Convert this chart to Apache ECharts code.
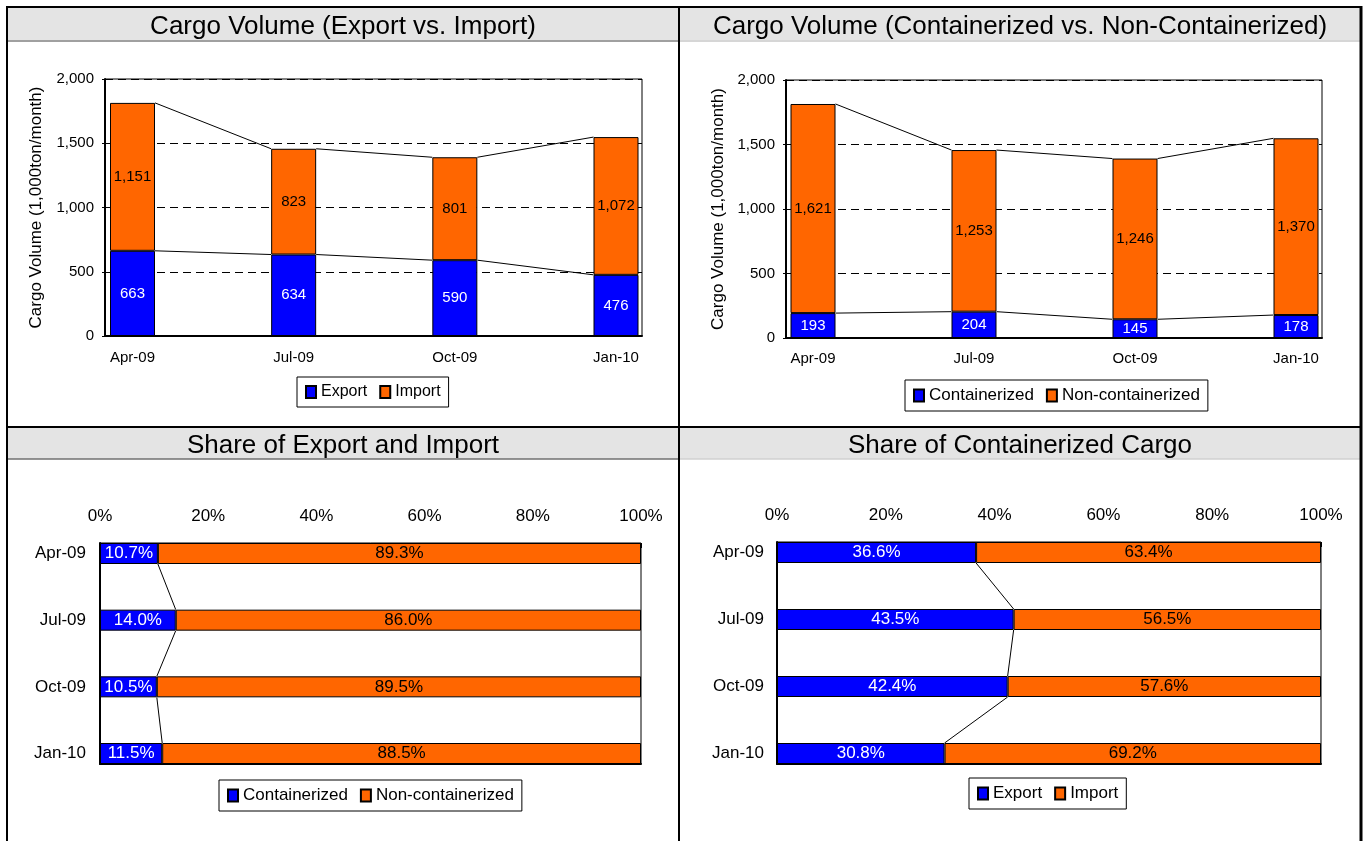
<!DOCTYPE html>
<html><head><meta charset="utf-8">
<script src="https://cdn.jsdelivr.net/npm/echarts@6/dist/echarts.min.js"></script>
<style>html,body{margin:0;padding:0;background:#fff}#c{width:1367px;height:841px}</style>
</head><body><div id="c"></div>
<script>
// ---------- data ----------
const categories = ['Apr-09', 'Jul-09', 'Oct-09', 'Jan-10'];
const exportVolume = [663, 634, 590, 476];
const importVolume = [1151, 823, 801, 1072];
const containerizedVolume = [193, 204, 145, 178];
const nonContainerizedVolume = [1621, 1253, 1246, 1370];
const shareLeftFirst = [10.7, 14.0, 10.5, 11.5];   // legend: Containerized
const shareLeftSecond = [89.3, 86.0, 89.5, 88.5];  // legend: Non-containerized
const shareRightFirst = [36.6, 43.5, 42.4, 30.8];  // legend: Export
const shareRightSecond = [63.4, 56.5, 57.6, 69.2]; // legend: Import
const volumeTicks = [0, 500, 1000, 1500, 2000];
const shareTicks = [0, 20, 40, 60, 80, 100];
const chartTitles = ['Cargo Volume (Export vs. Import)', 'Cargo Volume (Containerized vs. Non-Containerized)', 'Share of Export and Import', 'Share of Containerized Cargo'];
const yAxisTitle = 'Cargo Volume (1,000ton/month)';

// ---------- helpers ----------
const FONT = "'Liberation Sans', Arial, Helvetica, sans-serif";
const BLUE = '#0000FF', ORANGE = '#FF6600';
const fmtK = v => Number(v).toLocaleString('en-US');
const fmtP = v => Number(v).toFixed(1) + '%';
const VBAR = 45, HBAR = 21;

function cum(a, b) { return a.map((v, i) => v + (b ? b[i] : 0)); }
function pairs(tops) { const d = []; for (let i = 0; i < tops.length - 1; i++) d.push([i, tops[i], tops[i + 1]]); return d; }
function pairsH(ends) { const d = []; for (let i = 0; i < ends.length - 1; i++) d.push([ends[i], i, ends[i + 1]]); return d; }

function vLines(xi, yi, tops) {
  return {
    type: 'custom', xAxisIndex: xi, yAxisIndex: yi, silent: true, z: 5, clip: false,
    encode: { x: 0, y: 1 }, data: pairs(tops),
    renderItem: function (params, api) {
      const i = api.value(0);
      const p1 = api.coord([i, api.value(1)]);
      const p2 = api.coord([i + 1, api.value(2)]);
      return { type: 'line', shape: { x1: p1[0] + VBAR / 2, y1: p1[1], x2: p2[0] - VBAR / 2, y2: p2[1] },
        style: { stroke: '#000', lineWidth: 1 } };
    }
  };
}
function hLines(xi, yi, ends) {
  return {
    type: 'custom', xAxisIndex: xi, yAxisIndex: yi, silent: true, z: 5, clip: false,
    encode: { x: 0, y: 1 }, data: pairsH(ends),
    renderItem: function (params, api) {
      const i = api.value(1);
      const p1 = api.coord([api.value(0), i]);
      const p2 = api.coord([api.value(2), i + 1]);
      return { type: 'line', shape: { x1: p1[0], y1: p1[1] + HBAR / 2, x2: p2[0], y2: p2[1] - HBAR / 2 },
        style: { stroke: '#000', lineWidth: 1 } };
    }
  };
}
function vBar(name, xi, yi, stack, data, color, labelColor) {
  return { type: 'bar', name, xAxisIndex: xi, yAxisIndex: yi, stack, barWidth: VBAR, data,
    itemStyle: { color, borderColor: '#000', borderWidth: 1 },
    label: { show: true, position: 'inside', color: labelColor, fontSize: 15, fontFamily: FONT, formatter: p => fmtK(p.value) } };
}
function hBar(name, xi, yi, stack, data, color, labelColor) {
  return { type: 'bar', name, xAxisIndex: xi, yAxisIndex: yi, stack, barWidth: HBAR, data,
    itemStyle: { color, borderColor: '#000', borderWidth: 1 },
    label: { show: true, position: 'inside', color: labelColor, fontSize: 17, fontFamily: FONT, formatter: p => fmtP(p.value) } };
}

const vMin = volumeTicks[0], vMax = volumeTicks[volumeTicks.length - 1], vInt = volumeTicks[1] - volumeTicks[0];
const sMin = shareTicks[0], sMax = shareTicks[shareTicks.length - 1], sInt = shareTicks[1] - shareTicks[0];

const frameGrid = (l, t, w, h) => ({ left: l, top: t, width: w, height: h, show: true, borderColor: '#000', borderWidth: 1, backgroundColor: '#fff', containLabel: false, outerBoundsMode: 'none' });
const plainGrid = (l, t, w, h) => ({ left: l, top: t, width: w, height: h, containLabel: false, outerBoundsMode: 'none' });

const thickLine = { show: true, onZero: false, lineStyle: { color: '#000', width: 2 } };
const hiddenValue = (gi, min, max) => ({ gridIndex: gi, type: 'value', min, max, show: false });
const lineOnlyAxis = (gi, pos) => ({ gridIndex: gi, type: 'value', min: 0, max: 1, position: pos, axisLine: thickLine, axisTick: { show: false }, axisLabel: { show: false }, splitLine: { show: false } });

const volumeY = (gi, gap) => ({
  gridIndex: gi, type: 'value', min: vMin, max: vMax, interval: vInt,
  axisLine: thickLine, axisTick: { show: true, length: 3, lineStyle: { color: '#000' } },
  axisLabel: { formatter: fmtK, fontSize: 15, margin: 11, color: '#000', fontFamily: FONT },
  splitLine: { show: true, lineStyle: { color: '#000', type: [8, 5], width: 1 } },
  name: yAxisTitle, nameLocation: 'middle', nameRotate: 90, nameGap: gap,
  nameTextStyle: { fontSize: 17, color: '#000', fontFamily: FONT }
});
const catX = (gi, margin) => ({
  gridIndex: gi, type: 'category', data: categories, boundaryGap: false,
  axisLine: { show: false }, axisTick: { show: false }, splitLine: { show: false },
  axisLabel: { fontSize: 15, margin, color: '#000', fontFamily: FONT, interval: 0 }
});
const shareX = gi => ({
  gridIndex: gi, type: 'value', position: 'top', min: sMin, max: sMax, interval: sInt,
  axisLine: { show: true, onZero: false, lineStyle: { color: '#000', width: 1 } },
  axisTick: { show: true, inside: true, length: 5, lineStyle: { color: '#000' } },
  axisLabel: { formatter: '{value}%', fontSize: 17, margin: 18, color: '#000', fontFamily: FONT },
  splitLine: { show: false }
});
const catY = (gi, margin) => ({
  gridIndex: gi, type: 'category', data: categories, inverse: true, boundaryGap: false,
  axisLine: { show: false }, axisTick: { show: false }, splitLine: { show: false },
  axisLabel: { fontSize: 17, margin, color: '#000', fontFamily: FONT, interval: 0 }
});

const legendCommon = { orient: 'horizontal', itemWidth: 10, itemHeight: 12, itemGap: 12, padding: [7, 8],
  borderColor: '#000', borderWidth: 1, backgroundColor: '#fff', icon: 'rect', selectedMode: false };

const titleAt = (text, cx, top) => ({ text, left: cx, top, textAlign: 'center', padding: 0,
  textStyle: { fontSize: 26, fontWeight: 'normal', color: '#000', fontFamily: FONT, lineHeight: 30 } });

const option = {
  animation: false,
  backgroundColor: '#fff',
  textStyle: { fontFamily: FONT },
  title: [
    titleAt(chartTitles[0], 343, 12),
    titleAt(chartTitles[1], 1020, 12),
    titleAt(chartTitles[2], 343, 431),
    titleAt(chartTitles[3], 1020, 431)
  ],
  legend: [
    Object.assign({}, legendCommon, { data: ['Export', 'Import'], left: 297, top: 377, textStyle: { fontSize: 16, color: '#000', fontFamily: FONT } }),
    Object.assign({}, legendCommon, { data: ['Containerized', 'Non-containerized'], left: 905, top: 380, textStyle: { fontSize: 17, color: '#000', fontFamily: FONT } }),
    Object.assign({}, legendCommon, { data: ['Containerized', 'Non-containerized'], left: 219, top: 780, textStyle: { fontSize: 17, color: '#000', fontFamily: FONT } }),
    Object.assign({}, legendCommon, { data: ['Export', 'Import'], left: 969, top: 778, textStyle: { fontSize: 17, color: '#000', fontFamily: FONT } })
  ],
  grid: [
    frameGrid(105, 79, 537, 257), plainGrid(132.5, 79, 483.5, 257),
    frameGrid(786, 80, 536, 258), plainGrid(813, 80, 483, 258),
    frameGrid(100, 543, 541, 221), plainGrid(100, 553.5, 541, 200),
    frameGrid(777, 542, 544, 222), plainGrid(777, 552.5, 544, 201)
  ],
  xAxis: [
    lineOnlyAxis(0, 'bottom'), catX(1, 14),
    lineOnlyAxis(2, 'bottom'), catX(3, 13),
    shareX(4), hiddenValue(5, sMin, sMax),
    shareX(6), hiddenValue(7, sMin, sMax),
    lineOnlyAxis(4, 'bottom'), lineOnlyAxis(6, 'bottom')
  ],
  yAxis: [
    volumeY(0, 60), hiddenValue(1, vMin, vMax),
    volumeY(2, 59), hiddenValue(3, vMin, vMax),
    lineOnlyAxis(4, 'left'), catY(5, 14),
    lineOnlyAxis(6, 'left'), catY(7, 13)
  ],
  series: [
    vBar('Export', 1, 1, 'tl', exportVolume, BLUE, '#fff'),
    vBar('Import', 1, 1, 'tl', importVolume, ORANGE, '#000'),
    vLines(1, 1, cum(exportVolume)),
    vLines(1, 1, cum(exportVolume, importVolume)),

    vBar('Containerized', 3, 3, 'tr', containerizedVolume, BLUE, '#fff'),
    vBar('Non-containerized', 3, 3, 'tr', nonContainerizedVolume, ORANGE, '#000'),
    vLines(3, 3, cum(containerizedVolume)),
    vLines(3, 3, cum(containerizedVolume, nonContainerizedVolume)),

    hBar('Containerized', 5, 5, 'bl', shareLeftFirst, BLUE, '#fff'),
    hBar('Non-containerized', 5, 5, 'bl', shareLeftSecond, ORANGE, '#000'),
    hLines(5, 5, shareLeftFirst),

    hBar('Export', 7, 7, 'br', shareRightFirst, BLUE, '#fff'),
    hBar('Import', 7, 7, 'br', shareRightSecond, ORANGE, '#000'),
    hLines(7, 7, shareRightFirst)
  ],
  graphic: [
    { type: 'rect', shape: { x: 8, y: 8, width: 670, height: 32 }, style: { fill: '#E4E4E4' }, z: -10 },
    { type: 'rect', shape: { x: 680, y: 8, width: 680, height: 32 }, style: { fill: '#E4E4E4' }, z: -10 },
    { type: 'rect', shape: { x: 8, y: 428, width: 670, height: 31 }, style: { fill: '#E4E4E4' }, z: -10 },
    { type: 'rect', shape: { x: 680, y: 428, width: 680, height: 31 }, style: { fill: '#E4E4E4' }, z: -10 },
    { type: 'line', shape: { x1: 8, y1: 41, x2: 678, y2: 41 }, style: { stroke: '#808080', lineWidth: 1.5 } },
    { type: 'line', shape: { x1: 680, y1: 41, x2: 1360, y2: 41 }, style: { stroke: '#C8C8C8', lineWidth: 1.5 } },
    { type: 'line', shape: { x1: 8, y1: 459, x2: 678, y2: 459 }, style: { stroke: '#707070', lineWidth: 1.5 } },
    { type: 'line', shape: { x1: 680, y1: 459, x2: 1360, y2: 459 }, style: { stroke: '#D0D0D0', lineWidth: 1.5 } },
    { type: 'line', shape: { x1: 7, y1: 7, x2: 1362, y2: 7 }, style: { stroke: '#000', lineWidth: 2 } },
    { type: 'line', shape: { x1: 7, y1: 6, x2: 7, y2: 841 }, style: { stroke: '#000', lineWidth: 2 } },
    { type: 'line', shape: { x1: 1361, y1: 6, x2: 1361, y2: 841 }, style: { stroke: '#000', lineWidth: 3 } },
    { type: 'line', shape: { x1: 679, y1: 6, x2: 679, y2: 841 }, style: { stroke: '#000', lineWidth: 2 } },
    { type: 'line', shape: { x1: 7, y1: 427, x2: 1362, y2: 427 }, style: { stroke: '#000', lineWidth: 2 } }
  ]
};

const chart = echarts.init(document.getElementById('c'), null, { renderer: 'canvas' });
chart.setOption(option);
</script>
</body></html>
